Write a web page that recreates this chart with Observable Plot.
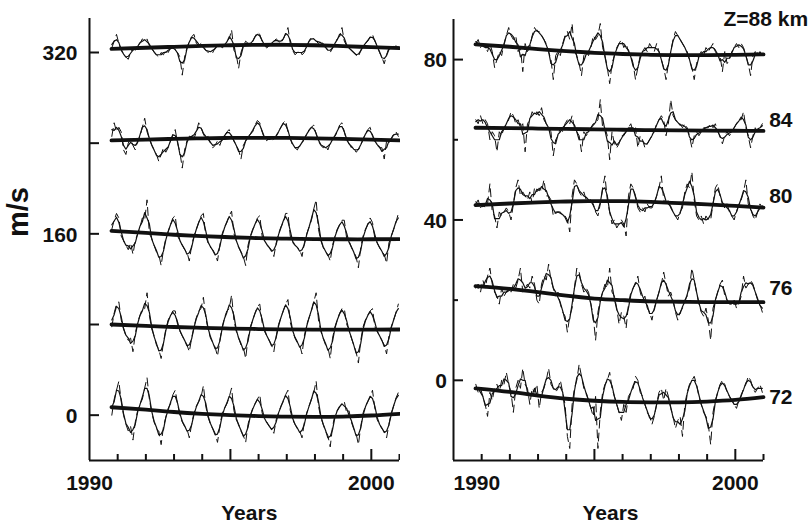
<!DOCTYPE html>
<html><head><meta charset="utf-8">
<script src="https://cdn.jsdelivr.net/npm/d3@7"></script>
<script src="https://cdn.jsdelivr.net/npm/@observablehq/plot@0.6"></script>
<style>
html,body{margin:0;padding:0;background:#fff;}
#wrap{position:relative;width:811px;height:525px;overflow:hidden;background:#fff;}
#left{position:absolute;left:0;top:0;}
#right{position:absolute;left:400px;top:0;}
</style></head><body>
<div id="wrap"><div id="left"></div><div id="right"></div></div>
<script>
// ---- time base: monthly values, first value = October 1990, last = December 2000
const startYear = 1990, startMonth = 10;

// ---- LEFT PANEL: monthly values (m/s), relative to each curve's offset
const leftOffsets = [0, 80, 160, 240, 320];
const left0 = [0,14,22,
  30,12,0,-8,-14,-10,-22,-6,4,10,14,24,
  33,14,2,-6,-12,-14,-26,-10,-2,6,10,18,
  22,10,0,-6,-10,-12,-20,-8,2,8,12,16,
  26,8,-2,-8,-12,-16,-24,-10,2,6,10,16,
  24,4,-4,-8,-14,-18,-24,-8,0,6,10,14,
  18,2,-4,-6,-10,-12,-16,-4,2,8,12,18,
  22,4,-4,-8,-12,-14,-20,-6,2,8,14,20,
  30,8,-2,-8,-14,-18,-28,-10,0,4,8,10,
  12,2,4,-6,-12,-16,-26,-10,2,8,12,16,
  22,6,-4,-8,-12,-14,-20,-8,2,8,15,20];
const left80 = [-2,10,18,
  20,4,-4,-10,-14,-12,-24,-8,2,8,14,14,
  28,8,-4,-10,-18,-22,-30,-16,-4,4,8,12,
  12,0,-6,-10,-14,-18,-24,-12,-2,6,12,14,
  24,6,-4,-12,-16,-20,-28,-14,-2,6,12,14,
  26,4,-6,-12,-18,-20,-30,-12,-2,4,10,16,
  18,2,-6,-10,-14,-18,-24,-10,0,6,12,18,
  22,2,-6,-12,-16,-18,-26,-10,0,6,12,20,
  28,4,-6,-12,-18,-20,-30,-12,-2,4,10,14,
  14,0,-4,-12,-18,-24,-34,-14,-2,4,8,12,
  14,-2,-6,-10,-14,-18,-26,-10,-2,4,10,18];
const left160 = [4,12,18,
  14,-2,-6,-10,-14,-8,-18,-6,0,6,14,12,
  30,0,-4,-10,-16,-18,-28,-14,-4,2,8,14,
  16,-2,-6,-10,-14,-16,-24,-10,-2,4,10,16,
  18,-2,-8,-12,-14,-18,-24,-10,0,6,10,16,
  20,0,-6,-12,-16,-20,-28,-10,-2,4,8,14,
  16,-2,-6,-10,-12,-14,-20,-8,0,6,10,18,
  18,-2,-8,-10,-12,-14,-20,-8,0,6,12,22,
  30,4,-6,-12,-16,-18,-24,-10,-2,4,8,12,
  12,-4,-6,-12,-16,-20,-30,-12,-2,4,8,14,
  10,-4,-8,-12,-16,-18,-26,-8,-2,4,10,18];
const left240 = [6,18,10,
  14,10,-6,-10,0,4,-2,-6,2,6,14,22,
  10,4,-2,-6,-10,-16,-10,-4,-8,-4,2,8,
  12,0,-8,-22,-6,2,6,8,4,10,18,14,
  8,4,6,0,-4,-2,2,-2,4,6,10,12,
  6,2,-2,-6,-14,-2,2,6,8,10,16,20,
  18,10,4,2,6,2,4,6,10,14,18,20,
  10,4,-2,-4,-6,-2,0,4,8,12,14,16,
  8,2,-2,-4,-2,-6,0,4,6,10,16,18,
  10,2,0,-4,-4,-8,-6,-2,4,8,12,14,
  6,2,-2,-4,-4,-14,2,0,4,8,10,6];
const left320 = [4,10,16,
  8,2,-2,-4,-6,0,4,2,6,8,12,10,
  12,6,4,0,-2,-4,0,-2,2,0,4,6,
  2,0,-4,-20,-4,4,10,14,16,8,6,8,
  4,2,0,2,0,4,6,8,4,6,10,12,
  20,2,-2,-14,0,6,10,8,6,10,14,18,
  16,10,6,4,6,8,10,12,10,8,12,16,
  22,8,2,-2,0,2,-2,0,6,10,14,12,
  10,8,10,8,4,2,0,4,8,12,14,22,
  10,6,4,2,0,-2,-4,2,6,8,10,14,
  16,10,6,0,-4,-10,-2,4,6,4,6,4];

// ---- RIGHT PANEL: monthly values, relative to each curve's offset (72, 76, 80, 84, 88 km)
const rightOffsets = [0, 20, 40, 60, 80];
const right72 = [-1,-3,-2,
  -4,-6,-9,-3,-5,-2,-1,-3,0,-1,2,-1,
  -3,-8,-2,0,-2,3,-1,-2,-6,-2,-3,-1,
  -7,-3,-2,0,3,-1,-2,-3,-2,0,-3,-6,
  -14,-17,-6,-2,0,4,1,-2,-3,-5,-7,-9,
  -4,-17,-8,-3,-1,0,2,-2,-4,-6,-8,-10,
  -6,-8,-4,-3,-2,1,0,-3,-4,-6,-8,-9,
  -11,-9,-6,-3,-2,-5,-2,-4,-7,-9,-12,-10,
  -9,-14,-6,-3,-1,0,1,-1,-4,-6,-8,-9,
  -11,-16,-8,-5,-3,-1,0,-1,-3,-4,-5,-6,
  -7,-5,-4,-2,-1,1,0,-2,-3,-2,-1,-3];
const right76 = [3,4,2,
  5,3,6,8,4,2,1,-1,3,1,2,3,
  2,4,3,5,8,2,3,4,3,6,4,0,
  -1,4,6,5,9,5,3,1,2,-1,-3,-4,
  -8,-4,-2,3,8,7,4,2,3,2,-1,-4,
  -10,-3,0,2,4,3,8,2,1,-2,-6,-3,
  -4,-7,-1,2,3,4,6,2,0,1,-2,-3,
  -5,-2,0,2,4,7,4,1,2,0,-3,-5,
  -3,-2,0,1,3,8,5,2,-1,-3,-4,-2,
  -5,-10,-2,0,2,4,5,1,0,-1,-1,0,
  -2,-1,1,6,3,4,5,4,2,0,-1,-3];
const right80 = [4,5,3,
  4,3,4,9,2,1,-2,2,1,2,3,2,
  0,4,8,10,6,7,6,5,7,4,8,7,
  8,7,10,6,6,5,1,2,2,2,1,1,
  0,-3,6,10,9,7,6,7,5,5,5,4,
  2,1,4,8,11,5,2,-1,0,-2,-1,0,
  -1,-4,6,9,8,6,3,2,3,2,4,3,
  3,4,6,8,11,5,4,5,3,2,1,0,
  2,3,7,9,8,12,5,1,0,1,-1,1,
  0,0,4,8,9,6,4,3,4,2,1,0,
  2,4,5,7,10,4,3,1,0,2,4,3];
const right84 = [5,4,6,
  4,5,4,0,2,1,-3,2,1,3,4,5,
  7,6,4,5,3,4,-3,4,5,7,6,7,
  6,8,5,4,3,2,-4,0,1,3,2,4,
  5,4,6,3,2,1,-3,2,1,2,3,4,
  4,5,10,3,3,1,-5,2,-1,-2,-1,1,
  1,2,3,4,2,3,-2,1,0,-2,-1,0,
  1,2,4,5,6,5,1,4,10,6,5,4,
  4,3,4,3,1,-2,1,2,1,2,3,3,
  3,4,3,4,2,1,-1,1,2,1,2,3,
  4,5,5,7,3,1,-2,1,3,2,3,4];
const right88 = [4,5,3,
  4,3,2,4,2,-2,0,2,1,4,6,8,
  6,5,6,2,3,-3,4,2,3,6,8,7,
  7,6,5,4,2,0,-5,1,2,1,4,6,
  7,5,9,2,1,-1,-4,1,2,1,3,6,
  5,6,9,3,1,-2,-6,-1,1,3,4,5,
  3,4,2,1,-1,-5,-2,1,2,3,2,4,
  3,2,4,2,0,-2,-5,-1,2,5,7,6,
  5,4,3,2,0,-2,-5,-1,1,2,1,3,
  2,3,4,2,1,1,-3,2,-1,0,2,3,
  4,3,4,3,1,-1,-4,1,2,1,2,1];

// ---- long-term trend curves (thick lines), read at these dates
const trendYears = [1990.78, 1992, 1993, 1994, 1995, 1996, 1997, 1998, 1999, 2000, 2001];
const trendLeft0   = [7, 4.8, 2.8, 1.2, 0, -0.8, -1.3, -1.5, -1.2, -0.3, 1.2];
const trendLeft80  = [0, -1.2, -2.2, -3, -3.6, -4, -4.3, -4.5, -4.5, -4.5, -4.4];
const trendLeft160 = [2.6, 0.8, -0.8, -2, -3, -3.8, -4.3, -4.6, -4.8, -4.8, -4.7];
const trendLeft240 = [2.4, 3.2, 3.8, 4.3, 4.6, 4.7, 4.6, 4.3, 3.8, 3.2, 2.4];
const trendLeft320 = [3.2, 4.2, 5.0, 5.8, 6.4, 6.8, 6.8, 6.4, 5.6, 4.7, 3.8];
const trendRight72 = [-2.0, -2.9, -3.8, -4.6, -5.1, -5.4, -5.5, -5.5, -5.3, -4.9, -4.2];
const trendRight76 = [3.5, 2.8, 2.0, 1.1, 0.4, 0, -0.3, -0.4, -0.5, -0.5, -0.5];
const trendRight80 = [3.7, 4.1, 4.4, 4.6, 4.7, 4.7, 4.5, 4.2, 3.9, 3.5, 3.1];
const trendRight84 = [3.0, 2.9, 2.8, 2.7, 2.6, 2.5, 2.4, 2.35, 2.3, 2.25, 2.2];
const trendRight88 = [3.8, 3.2, 2.6, 2.1, 1.7, 1.4, 1.2, 1.1, 1.1, 1.2, 1.3];

// ---- axes and labels
const xTickYears = [1991, 1992, 1993, 1994, 1995, 1996, 1997, 1998, 1999, 2000, 2001];
const xMajorYears = [1995, 2000];
const xLabelYears = [1990, 2000];
const leftYTicks = [0, 80, 160, 240, 320];
const leftYLabels = [0, 160, 320];
const rightYMajor = [0, 40, 80];
const rightYMinor = [20, 60];
const rightLabels = ["72", "76", "80", "84"];
const topLabel = "Z=88 km";
const xTitle = "Years";
const yTitle = "m/s";

// label anchor positions (in the right panel's value units)
const rightLabelAt = [-4.2, 23.0, 45.9, 64.9];

function monthlyRows(series, offsets) {
  const rows = [];
  series.forEach((vals, s) => vals.forEach((v, i) =>
    rows.push({s, t: startYear + (startMonth - 1 + i + 0.5) / 12, v: offsets[s] + v})));
  return rows;
}
function trendRows(series, offsets) {
  const rows = [];
  series.forEach((vals, s) => vals.forEach((v, i) => rows.push({s, t: trendYears[i], v: offsets[s] + v})));
  return rows;
}

const leftRows = monthlyRows([left0, left80, left160, left240, left320], leftOffsets);
const rightRows = monthlyRows([right72, right76, right80, right84, right88], rightOffsets);
const leftTrend = trendRows([trendLeft0, trendLeft80, trendLeft160, trendLeft240, trendLeft320], leftOffsets);
const rightTrend = trendRows([trendRight72, trendRight76, trendRight80, trendRight84, trendRight88], rightOffsets);

const INK = "#111";
const FONT = "'Liberation Sans', Arial, Helvetica, sans-serif";
const txt = {fill: INK, fontSize: 21, fontWeight: "bold"};
const minorYears = xTickYears.filter(d => !xMajorYears.includes(d));

function dataMarks(rows, trend) {
  return [
    Plot.line(rows, {x: "t", y: "v", z: "s", stroke: INK, strokeWidth: 1, strokeDasharray: "8,5"}),
    Plot.line(rows, Plot.windowY({k: 3, reduce: "mean"}, {x: "t", y: "v", z: "s", stroke: INK, strokeWidth: 1.2})),
    Plot.line(trend, {x: "t", y: "v", z: "s", stroke: INK, strokeWidth: 3.8, curve: "natural"})
  ];
}

const leftPlot = Plot.plot({
  width: 410, height: 525,
  marginLeft: 89, marginRight: 11, marginTop: 18, marginBottom: 65,
  x: {domain: [1990, 2001], axis: null},
  y: {domain: [-40, 350], axis: null},
  style: {fontFamily: FONT, background: "white", overflow: "visible"},
  marks: [
    ...dataMarks(leftRows, leftTrend),
    Plot.ruleX([1990], {stroke: INK, strokeWidth: 2}),
    Plot.ruleY([-40], {stroke: INK, strokeWidth: 2}),
    Plot.tickY(leftYTicks, {y: d => d, stroke: INK, strokeWidth: 2, insetRight: 300}),
    Plot.tickX(minorYears, {x: d => d, stroke: INK, strokeWidth: 2, insetTop: 436}),
    Plot.tickX(xMajorYears, {x: d => d, stroke: INK, strokeWidth: 2, insetTop: 431}),
    Plot.text(leftYLabels, {x: 1990, y: d => d, text: d => `${d}`, textAnchor: "end", dx: -12, dy: 1, ...txt}),
    Plot.text(xLabelYears, {x: d => d, y: -40, text: d => `${d}`, dy: 23, ...txt}),
    Plot.text([xTitle], {x: 1995.67, y: -40, text: d => d, dy: 52.5, ...txt}),
    Plot.text([yTitle], {frameAnchor: "left", text: d => d, rotate: -90, dx: -71, dy: -2.5, fill: INK, fontSize: 29, fontWeight: "bold"})
  ]
});

const rightPlot = Plot.plot({
  width: 411, height: 525,
  marginLeft: 53, marginRight: 48, marginTop: 19, marginBottom: 65,
  x: {domain: [1990, 2001], axis: null},
  y: {domain: [-20, 90], axis: null},
  style: {fontFamily: FONT, background: "white", overflow: "visible"},
  marks: [
    ...dataMarks(rightRows, rightTrend),
    Plot.ruleX([1990], {stroke: INK, strokeWidth: 2}),
    Plot.ruleY([-20], {stroke: INK, strokeWidth: 2}),
    Plot.tickY(rightYMajor, {y: d => d, stroke: INK, strokeWidth: 2, insetRight: 300}),
    Plot.tickY(rightYMinor, {y: d => d, stroke: INK, strokeWidth: 2, insetRight: 305}),
    Plot.tickX(minorYears, {x: d => d, stroke: INK, strokeWidth: 2, insetTop: 435}),
    Plot.tickX(xMajorYears, {x: d => d, stroke: INK, strokeWidth: 2, insetTop: 430}),
    Plot.text(rightYMajor, {x: 1990, y: d => d, text: d => `${d}`, textAnchor: "end", dx: -6.5, dy: 1, ...txt}),
    Plot.text([xLabelYears[0]], {x: d => d, y: -20, text: d => `${d}`, textAnchor: "start", dy: 23, ...txt}),
    Plot.text([xLabelYears[1]], {x: d => d, y: -20, text: d => `${d}`, dy: 23, ...txt}),
    Plot.text([xTitle], {x: 1995.57, y: -20, text: d => d, dy: 52.5, ...txt}),
    Plot.text(rightLabels, {x: 2001.2, y: (d, i) => rightLabelAt[i], text: d => d, textAnchor: "start", ...txt}),
    Plot.text([topLabel], {x: 1999.58, y: 90.15, text: d => d, textAnchor: "start", ...txt})
  ]
});

document.getElementById("left").appendChild(leftPlot);
document.getElementById("right").appendChild(rightPlot);
</script>
</body></html>
